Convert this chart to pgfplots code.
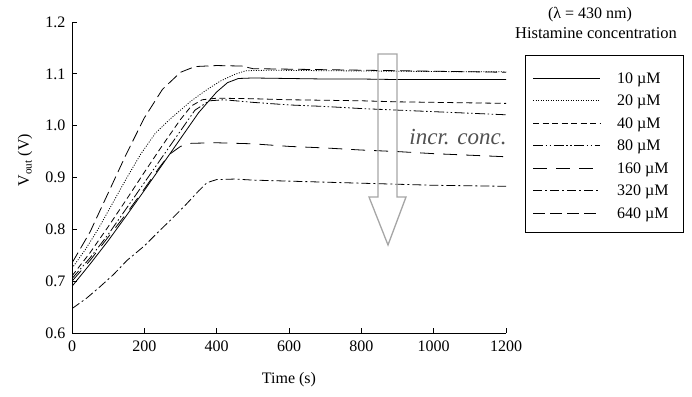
\documentclass[border=0pt]{standalone}
\usepackage{fontspec}
\setmainfont{Liberation Serif}
\usepackage{pgfplots}
\pgfplotsset{compat=1.18}
\tikzset{
  sA/.style={black,line width=0.8pt,solid},
  sB/.style={black,line width=0.8pt,dash pattern=on 1pt off 1.5pt},
  sC/.style={black,line width=0.8pt,dash pattern=on 6pt off 3.5pt},
  sD/.style={black,line width=0.8pt,dash pattern=on 10pt off 2.5pt on 1.5pt off 2.5pt on 1.5pt off 2.5pt},
  sE/.style={black,line width=0.8pt,dash pattern=on 14pt off 9pt},
  sF/.style={black,line width=0.8pt,dash pattern=on 9pt off 3pt on 2pt off 3pt},
  sG/.style={black,line width=0.8pt,dash pattern=on 12pt off 5pt},
}
\begin{document}
\begin{tikzpicture}[x=1pt,y=1pt]
\path[use as bounding box] (-72,-63) rectangle (620,333);
\begin{axis}[
  at={(0,0)}, anchor=south west, scale only axis,
  width=434pt, height=311pt,
  xmin=0, xmax=1200, ymin=0.6, ymax=1.2,
  axis lines*=left, axis line style={line width=1pt,-},
  xtick={0,200,400,600,800,1000,1200},
  ytick={0.6,0.7,0.8,0.9,1.0,1.1,1.2},
  tick align=inside, major tick length=5pt,
  tick style={line width=0.8pt,black},
  /pgf/number format/assume math mode=true,
  /pgf/number format/1000 sep={},
  yticklabel style={/pgf/number format/fixed,/pgf/number format/fixed zerofill,/pgf/number format/precision=1,xshift=-3pt},
  ticklabel style={font=\fontsize{16}{19}\selectfont},
  xticklabel style={yshift=-4pt},
  xlabel={Time (s)},
  ylabel={V\textsubscript{out} (V)},
  every axis x label/.style={at={(axis description cs:0.5,-0.151)},anchor=center,font=\fontsize{16}{19}\selectfont},
  every axis y label/.style={at={(axis description cs:-0.108,0.556)},anchor=center,rotate=90,font=\fontsize{16}{19}\selectfont},
]
% 10 uM solid
\addplot[sA] coordinates {
(0,0.690) (50,0.733) (100,0.778) (150,0.826) (200,0.875) (250,0.925) (300,0.975) (350,1.025)
(400,1.065) (430,1.083) (460,1.091) (500,1.092) (600,1.091) (700,1.090) (800,1.090)
(900,1.089) (1000,1.089) (1100,1.089) (1200,1.089)};
% 20 uM dotted
\addplot[sB] coordinates {
(0,0.725) (36,0.760) (72,0.800) (112,0.850) (152,0.900) (190,0.945) (230,0.985) (270,1.012)
(300,1.030) (330,1.048) (370,1.068) (410,1.086) (450,1.099) (480,1.106) (550,1.107)
(700,1.106) (900,1.105) (1100,1.104) (1200,1.104)};
% 40 uM short dash
\addplot[sC] coordinates {
(0,0.710) (50,0.755) (100,0.805) (150,0.857) (200,0.910) (250,0.962) (300,1.012) (330,1.038)
(360,1.050) (400,1.053) (500,1.052) (600,1.050) (700,1.049) (800,1.048) (900,1.046)
(1000,1.045) (1100,1.044) (1200,1.043)};
% 80 uM dash dot dot
\addplot[sD] coordinates {
(0,0.705) (50,0.745) (100,0.790) (150,0.840) (200,0.890) (250,0.940) (300,0.990) (340,1.030)
(380,1.048) (420,1.050) (500,1.045) (600,1.040) (700,1.037) (800,1.033) (900,1.030)
(1000,1.027) (1100,1.024) (1200,1.021)};
% 160 uM long dash
\addplot[sE] coordinates {
(0,0.700) (50,0.740) (100,0.785) (150,0.830) (200,0.878) (240,0.918) (270,0.945) (300,0.960)
(330,0.966) (400,0.967) (500,0.965) (600,0.960) (700,0.957) (800,0.953) (900,0.950)
(1000,0.946) (1100,0.943) (1200,0.940)};
% 320 uM dash dot
\addplot[sF] coordinates {
(0,0.647) (40,0.667) (77,0.689) (115,0.713) (152,0.740) (200,0.768) (243,0.798) (280,0.823)
(318,0.850) (350,0.874) (373,0.890) (400,0.896) (450,0.897) (500,0.895) (600,0.893)
(700,0.891) (800,0.889) (900,0.887) (1000,0.885) (1100,0.884) (1200,0.883)};
% 640 uM dashed
\addplot[sG] coordinates {
(0,0.735) (50,0.795) (100,0.870) (150,0.945) (200,1.015) (250,1.070) (300,1.103) (340,1.114)
(400,1.116) (470,1.115) (500,1.110) (600,1.109) (800,1.107) (1000,1.105) (1200,1.103)};
\end{axis}
% legend title
\node[font=\fontsize{16}{19}\selectfont] at (518,318) {(λ = 430 nm)};
\node[font=\fontsize{16.5}{19}\selectfont] at (524,300) {Histamine concentration};
% legend box
\draw[black,line width=0.8pt] (453,278) rectangle (611,101);
\foreach \s/\t/\yy in {sA/10/255, sB/20/232.5, sC/40/210, sD/80/187.5, sE/160/165, sF/320/142.5, sG/640/120}{
  \draw[\s] (461,\yy) -- (528,\yy);
  \node[anchor=base west, inner sep=0pt, font=\fontsize{16}{19}\selectfont] at (545,\yy-5.5) {\t\ µM};
}
% hollow arrow
\draw[color=black!35, line width=1.3pt, line join=miter]
  (306,279) -- (325,279) -- (325,136) -- (334,136) -- (316,88) -- (297,136) -- (306,136) -- cycle;
\node[font=\fontsize{23}{27}\selectfont\itshape, text=black!68] at (386,196) {incr. conc.};
\end{tikzpicture}
\end{document}
